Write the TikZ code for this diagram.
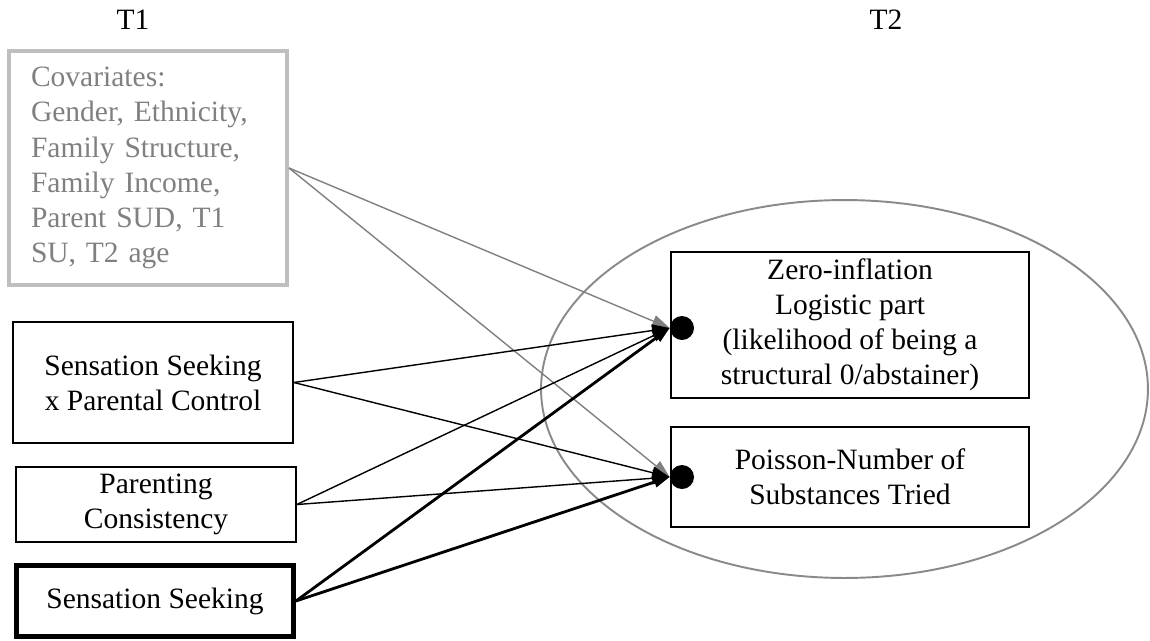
\documentclass[tikz,border=0pt]{standalone}
\usepackage{fontspec}
\setmainfont{Liberation Serif}
\usetikzlibrary{arrows.meta,shapes.geometric}
\definecolor{covgray}{HTML}{BFBFBF}
\definecolor{txtgray}{HTML}{808080}
\definecolor{elgray}{HTML}{8A8A8A}
\definecolor{argray}{HTML}{808080}
\tikzset{
  every node/.style={font=\fontsize{16.8}{20}\selectfont},
  predbox/.style={draw=black, line width=1pt, rectangle, align=center, inner sep=0pt},
  outbox/.style={draw=black, line width=1.4pt, rectangle, align=center, inner sep=0pt},
  dotnode/.style={circle, fill=black, draw=none, minimum size=0.48cm, inner sep=0pt},
  thinarrow/.style={draw=black, line width=0.8pt, -{Triangle[length=10pt,width=7pt]}},
  grayarrow/.style={draw=argray, line width=0.8pt, -{Triangle[length=10pt,width=7pt]}},
  thickarrow/.style={draw=black, line width=1.6pt, -{Triangle[length=9pt,width=6pt]}},
  timelabel/.style={anchor=base, inner sep=0pt}
}
\begin{document}
\begin{tikzpicture}[x=0.02cm, y=-0.02cm]
\useasboundingbox (0,0) rectangle (1150,640);

% time labels
\node[timelabel] (t1) at (133,29) {T1};
\node[timelabel] (t2) at (886,29) {T2};

% ellipse grouping the outcome
\node[draw=elgray, line width=1.1pt, ellipse, minimum width=12.14cm, minimum height=7.56cm, inner sep=0pt] (grp) at (844.5,389) {};

% predictor boxes
\node[draw=covgray, line width=2.3pt, rectangle, align=left, text=txtgray,
      text width=4.68cm, inner xsep=0.44cm, inner ysep=0pt,
      minimum height=4.68cm] (cov) at (148,168)
  {Covariates:\\Gender, Ethnicity,\\Family Structure,\\Family Income,\\Parent SUD, T1\\SU, T2 age};
\node[predbox, minimum width=5.6cm, minimum height=2.42cm] (sxp) at (153,382.5)
  {Sensation Seeking\\x Parental Control};
\node[predbox, minimum width=5.6cm, minimum height=1.5cm] (pc) at (156,504.5)
  {Parenting\\Consistency};
\node[predbox, line width=2.8pt, minimum width=5.54cm, minimum height=1.42cm] (ss) at (155,601)
  {Sensation Seeking};

% outcome boxes
\node[outbox, minimum width=7.16cm, minimum height=2.92cm] (zero) at (850,325)
  {Zero-inflation\\Logistic part\\(likelihood of being a\\structural 0/abstainer)};
\node[outbox, minimum width=7.16cm, minimum height=2cm] (pois) at (850,477)
  {Poisson-Number of\\Substances Tried};

% dots
\node[dotnode] (dz) at (682,328) {};
\node[dotnode] (dp) at (682,477) {};

% arrows
\draw[grayarrow] (cov.east) -- (dz.west);
\draw[grayarrow] (cov.east) -- (dp.west);
\draw[thinarrow] (sxp.east) -- (dz.west);
\draw[thinarrow] (sxp.east) -- (dp.west);
\draw[thinarrow] (pc.east) -- (dz.west);
\draw[thinarrow] (pc.east) -- (dp.west);
\draw[thickarrow] (ss.east) -- (dz.west);
\draw[thickarrow] (ss.east) -- (dp.west);
\end{tikzpicture}
\end{document}
